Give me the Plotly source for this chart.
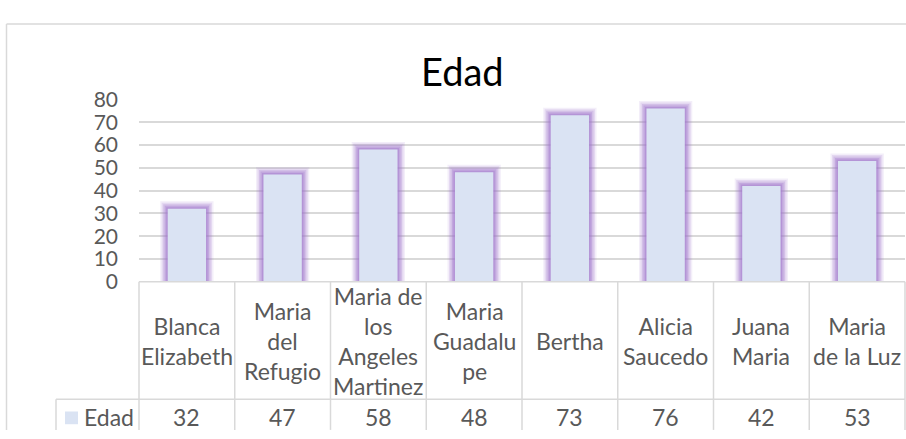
import plotly.graph_objects as go

# Data
names = ["Blanca Elizabeth", "Maria del Refugio", "Maria de los Angeles Martinez",
         "Maria Guadalupe", "Bertha", "Alicia Saucedo", "Juana Maria", "Maria de la Luz"]
cell_labels = ["Blanca<br>Elizabeth", "Maria<br>del<br>Refugio", "Maria de<br>los<br>Angeles<br>Martinez",
               "Maria<br>Guadalu<br>pe", "Bertha", "Alicia<br>Saucedo", "Juana<br>Maria", "Maria<br>de la Luz"]
edad = [32, 47, 58, 48, 73, 76, 42, 53]
series_name = "Edad"
y_ticks = [0, 10, 20, 30, 40, 50, 60, 70, 80]

W, H = 906, 439
FONT = "Lato"
TXT = "#595959"
GRID = "#d9d9d9"
FILL = "#dae3f3"

# Pixel layout helpers (margins are zero, so paper == full page)
def px(x):
    return x / W

def py(y):
    return 1 - y / H

plot_l, plot_r = 139, 905
plot_t, plot_b = 90.5, 284
table_mid = 408.5
col_w = (plot_r - plot_l) / len(names)

fig = go.Figure()

# Soft purple glow around each bar, built from stacked translucent outlines
for lw, a in [(15, 0.12), (12, 0.18), (9, 0.25), (6, 0.33), (3, 0.4)]:
    fig.add_trace(go.Bar(
        x=names, y=edad, width=0.4,
        marker=dict(color="rgba(0,0,0,0)", line=dict(color=f"rgba(160,118,203,{a})", width=lw)),
        hoverinfo="skip", showlegend=False,
    ))
# Bar fill
fig.add_trace(go.Bar(
    x=names, y=edad, width=0.4, name=series_name,
    marker=dict(color=FILL, line=dict(width=0)), showlegend=False,
))

shapes = []
line = dict(color=GRID, width=1.5)
# Outer chart border (left and top)
shapes.append(dict(type="line", xref="paper", yref="paper", x0=px(6.5), x1=px(6.5), y0=py(10.5), y1=py(H + 2), line=line))
shapes.append(dict(type="line", xref="paper", yref="paper", x0=px(6.5), x1=px(W + 2), y0=py(10.5), y1=py(10.5), line=line))
# Data table grid
shapes.append(dict(type="line", xref="paper", yref="paper", x0=px(plot_l), x1=px(plot_r), y0=py(plot_b), y1=py(plot_b), line=line))
shapes.append(dict(type="line", xref="paper", yref="paper", x0=px(56), x1=px(plot_r), y0=py(table_mid), y1=py(table_mid), line=line))
shapes.append(dict(type="line", xref="paper", yref="paper", x0=px(56), x1=px(56), y0=py(table_mid), y1=py(H + 2), line=line))
for k in range(len(names) + 1):
    xk = plot_l + k * col_w
    shapes.append(dict(type="line", xref="paper", yref="paper", x0=px(xk), x1=px(xk), y0=py(plot_b), y1=py(H + 2), line=line))
# Legend key square
shapes.append(dict(type="rect", xref="paper", yref="paper", x0=px(65), x1=px(78), y0=py(421.5), y1=py(435),
                   fillcolor=FILL, line=dict(width=0)))

annotations = []
annotations.append(dict(text="Edad", xref="paper", yref="paper", x=px(463), y=py(60), xanchor="center",
                        yanchor="middle", showarrow=False, font=dict(family=FONT, size=38, color="#000000")))
for nm, lab, v in zip(names, cell_labels, edad):
    annotations.append(dict(text=lab, xref="x", yref="paper", x=nm, y=py(346.5), xanchor="center",
                            yanchor="middle", showarrow=False, align="center",
                            font=dict(family=FONT, size=23, color=TXT)))
    annotations.append(dict(text=str(v), xref="x", yref="paper", x=nm, y=py(427), xanchor="center",
                            yanchor="middle", showarrow=False, font=dict(family=FONT, size=23, color=TXT)))
annotations.append(dict(text=series_name, xref="paper", yref="paper", x=px(82), y=py(427), xanchor="left",
                        yanchor="middle", showarrow=False, font=dict(family=FONT, size=23, color=TXT)))

fig.update_layout(
    width=W, height=H,
    margin=dict(l=0, r=0, t=0, b=0),
    paper_bgcolor="white", plot_bgcolor="white",
    barmode="overlay",
    showlegend=False,
    shapes=shapes,
    annotations=annotations,
    xaxis=dict(domain=[px(plot_l), px(plot_r)], range=[-0.5, len(names) - 0.5],
               showticklabels=False, showgrid=False, zeroline=False, showline=False, ticks=""),
    yaxis=dict(domain=[py(plot_b), py(plot_t)], range=[0, 80], tickvals=y_ticks,
               showgrid=True, gridcolor=GRID, gridwidth=1.5, zeroline=False, showline=False, ticks="",
               ticklabelstandoff=20, tickfont=dict(family=FONT, size=21, color=TXT)),
)

fig.write_html("out.html")
